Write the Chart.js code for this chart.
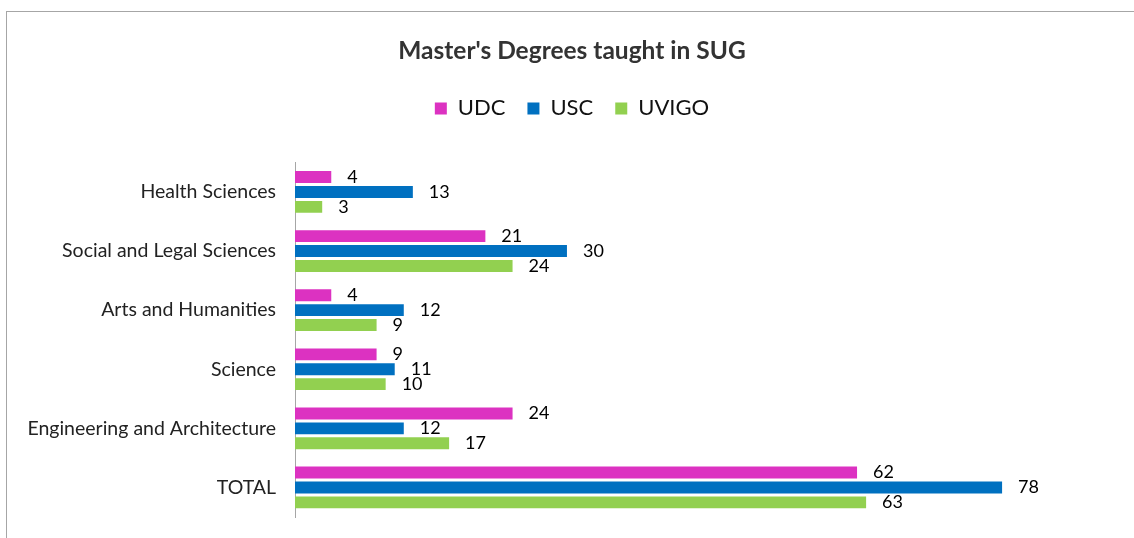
<!DOCTYPE html>
<html lang="en">
<head>
    <meta charset="UTF-8">
    <title>Master's Degrees taught in SUG</title>
    <script src="https://cdn.jsdelivr.net/npm/chart.js"></script>
    <style>
        html, body { margin: 0; padding: 0; background: #fff; overflow: hidden; }
        #frame { position: absolute; left: 6px; top: 11px; width: 1200px; height: 600px; border: 1px solid #a6a6a6; }
        #wrap { position: absolute; left: 0; top: 0; width: 1134px; height: 538px; }
    </style>
</head>
<body>
    <div id="frame"></div>
    <div id="wrap"><canvas id="barChart"></canvas></div>

    <script>
        // Adatok
        const categories = ['Health Sciences', 'Social and Legal Sciences', 'Arts and Humanities', 'Science', 'Engineering and Architecture', 'TOTAL'];
        const udc = [4, 21, 4, 9, 24, 62];
        const usc = [13, 30, 12, 11, 12, 78];
        const uvigo = [3, 24, 9, 10, 17, 63];

        // Értékcímkék a sávok végén
        const valueLabels = {
            id: 'valueLabels',
            afterDatasetsDraw(chart) {
                const ctx = chart.ctx;
                ctx.save();
                ctx.font = '18px Lato';
                ctx.fillStyle = '#000';
                ctx.textAlign = 'left';
                ctx.textBaseline = 'middle';
                chart.data.datasets.forEach((ds, i) => {
                    chart.getDatasetMeta(i).data.forEach((bar, j) => {
                        ctx.fillText(ds.data[j], bar.x + 16, bar.y);
                    });
                });
                ctx.restore();
            }
        };

        // Több hely a jelmagyarázat alatt
        const legendGap = {
            id: 'legendGap',
            beforeInit(chart) {
                const origFit = chart.legend.fit;
                chart.legend.fit = function () {
                    origFit.bind(chart.legend)();
                    this.height += 33;
                };
            }
        };

        const ctx = document.getElementById('barChart').getContext('2d');
        const barChart = new Chart(ctx, {
            type: 'bar',
            data: {
                labels: categories,
                datasets: [
                    { label: 'UDC', data: udc, backgroundColor: '#dc32c1' },
                    { label: 'USC', data: usc, backgroundColor: '#0070c0' },
                    { label: 'UVIGO', data: uvigo, backgroundColor: '#92d050' }
                ]
            },
            options: {
                indexAxis: 'y',
                responsive: true,
                maintainAspectRatio: false,
                animation: false,
                categoryPercentage: 0.756,
                barPercentage: 0.8,
                layout: { padding: { left: 15, right: 5, bottom: 21, top: 0 } },
                plugins: {
                    title: {
                        display: true,
                        text: "Master's Degrees taught in SUG",
                        color: '#333',
                        font: { family: 'Lato', size: 24.5, weight: 'bold', lineHeight: 1.2 },
                        padding: { top: 36, bottom: 10 }
                    },
                    legend: {
                        labels: {
                            boxWidth: 12,
                            boxHeight: 12,
                            color: '#111',
                            padding: 22,
                            font: { family: 'Lato', size: 22 }
                        }
                    },
                    tooltip: { enabled: false }
                },
                scales: {
                    x: { display: false, min: 0, max: 92 },
                    y: {
                        afterFit(scale) {
                            scale.width = 280;
                            scale.paddingTop = 0;
                            scale.paddingBottom = 0;
                        },
                        grid: { display: false, drawTicks: false },
                        border: { display: true, color: '#a6a6a6', width: 1 },
                        ticks: { color: '#222', padding: 19, font: { family: 'Lato', size: 19.5 } }
                    }
                }
            },
            plugins: [valueLabels, legendGap]
        });
    </script>
</body>
</html>
